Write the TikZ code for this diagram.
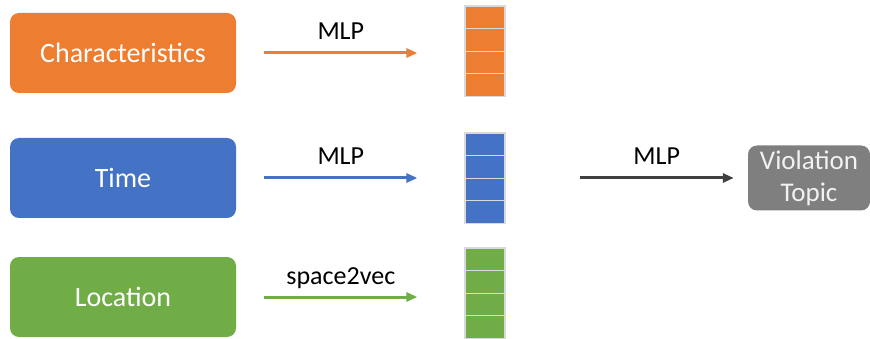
\documentclass[tikz,border=0pt]{standalone}
\usepackage{fontspec}
\setmainfont{Carlito}
\usetikzlibrary{
  math,
  positioning,
  arrows.meta,
}

\definecolor{myorange}{HTML}{ED7D31}
\definecolor{myblue}{HTML}{4472C4}
\definecolor{mygreen}{HTML}{70AD47}
\definecolor{mygray}{HTML}{7F7F7F}
\definecolor{mydark}{HTML}{404040}

\begin{document}
\begin{tikzpicture}[
  x=1pt,
  y=-1pt,
  input/.style n args={1}{
    rounded corners=9pt,
    fill=#1,
    text=white,
    minimum width=226pt,
    minimum height=80pt,
    inner sep=0pt,
    font={\fontsize{28}{32}\selectfont},
  },
  output/.style={
    rounded corners=9pt,
    fill=mygray,
    text=white!95!black,
    minimum width=122pt,
    minimum height=65pt,
    inner sep=0pt,
    align=center,
    font={\fontsize{27}{32}\selectfont},
  },
  cell/.style n args={1}{
    draw=white!85!black,
    line width=1.2pt,
    fill=#1,
    minimum width=40pt,
    minimum height=22.6pt,
    inner sep=0pt,
  },
  arrow/.style n args={1}{
    -{Triangle[length=11pt,width=9pt]},
    draw=#1,
    line width=3pt,
  },
  label/.style={
    anchor=base,
    inner sep=0pt,
    font={\fontsize{26}{30}\selectfont},
  },
]
  \useasboundingbox (0,0) rectangle (870,339);

  %%%%%%%%%%%%%%%%%%%% Inputs %%%%%%%%%%%%%%%%%%%%

  \node[input={myorange}] (chars) at (123,53) {Characteristics};
  \node[input={myblue}] (time) at (123,178) {Time};
  \node[input={mygreen}] (loc) at (123,297) {Location};

  %%%%%%%%%%%%%%%%%%%% Embeddings %%%%%%%%%%%%%%%%%%%%

  \foreach \v/\c/\ytop in {1/myorange/6,2/myblue/133,3/mygreen/248} {
    \foreach \k in {1,...,4} {
      \tikzmath {
        \celly = \ytop + 11.3 + (\k - 1) * 22.6;
      }
      \node[cell={\c}] (vec-\v-\k) at (485,\celly) {};
    }
  }

  %%%%%%%%%%%%%%%%%%%% Encoders %%%%%%%%%%%%%%%%%%%%

  \draw[arrow={myorange}] ([xshift=28pt]chars.east) to
    node[label,yshift=13pt] {MLP} ([xshift=-47pt]chars.east -| vec-1-1.west);
  \draw[arrow={myblue}] ([xshift=28pt]time.east) to
    node[label,yshift=13pt] {MLP} ([xshift=-47pt]time.east -| vec-2-1.west);
  \draw[arrow={mygreen}] ([xshift=28pt]loc.east) to
    node[label,yshift=13pt] {space2vec} ([xshift=-47pt]loc.east -| vec-3-1.west);

  %%%%%%%%%%%%%%%%%%%% Output %%%%%%%%%%%%%%%%%%%%

  \node[output] (topic) at (809,178) {Violation\\Topic};

  \draw[arrow={mydark}] ([xshift=74pt]time.east -| vec-2-1.east) to
    node[label,yshift=13pt] {MLP} ([xshift=-14pt]topic.west);
\end{tikzpicture}
\end{document}
